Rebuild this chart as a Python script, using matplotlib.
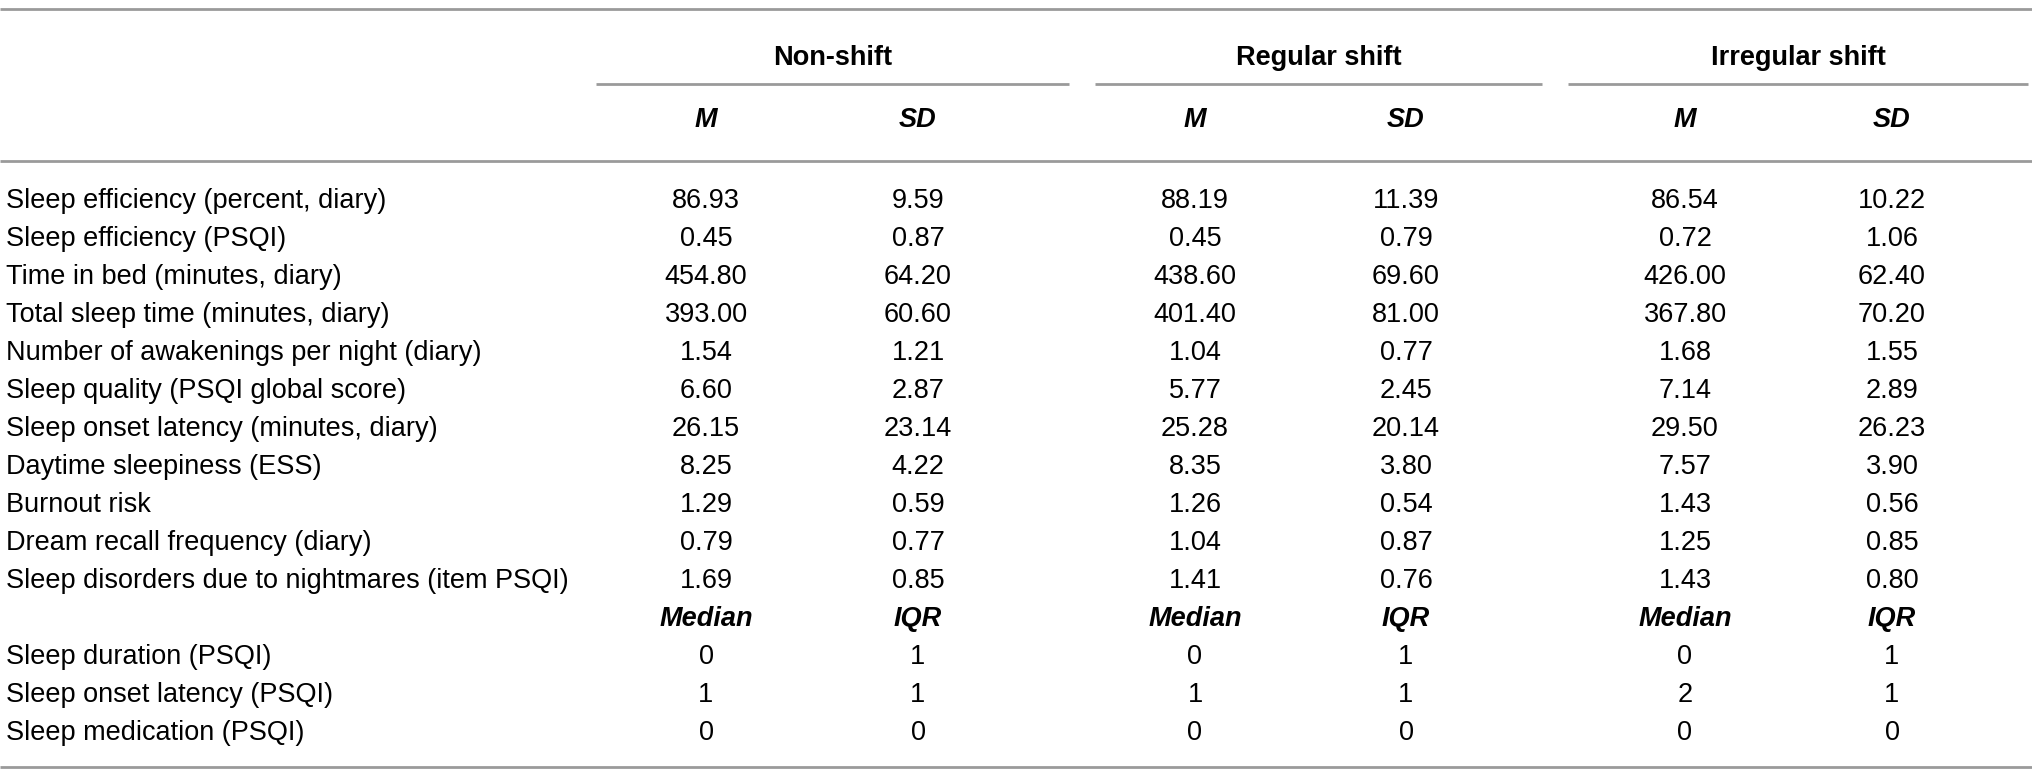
import matplotlib
matplotlib.use("Agg")
import matplotlib.pyplot as plt

plt.rcParams['font.family'] = ['Liberation Sans', 'DejaVu Sans']

### data
groups = ["Non-shift", "Regular shift", "Irregular shift"]
stat_labels = ["M", "SD"]
stat_labels_2 = ["Median", "IQR"]

rows_1 = [
    "Sleep efficiency (percent, diary)",
    "Sleep efficiency (PSQI)",
    "Time in bed (minutes, diary)",
    "Total sleep time (minutes, diary)",
    "Number of awakenings per night (diary)",
    "Sleep quality (PSQI global score)",
    "Sleep onset latency (minutes, diary)",
    "Daytime sleepiness (ESS)",
    "Burnout risk",
    "Dream recall frequency (diary)",
    "Sleep disorders due to nightmares (item PSQI)",
]
non_shift_m = ["86.93", "0.45", "454.80", "393.00", "1.54", "6.60", "26.15", "8.25", "1.29", "0.79", "1.69"]
non_shift_sd = ["9.59", "0.87", "64.20", "60.60", "1.21", "2.87", "23.14", "4.22", "0.59", "0.77", "0.85"]
regular_m = ["88.19", "0.45", "438.60", "401.40", "1.04", "5.77", "25.28", "8.35", "1.26", "1.04", "1.41"]
regular_sd = ["11.39", "0.79", "69.60", "81.00", "0.77", "2.45", "20.14", "3.80", "0.54", "0.87", "0.76"]
irregular_m = ["86.54", "0.72", "426.00", "367.80", "1.68", "7.14", "29.50", "7.57", "1.43", "1.25", "1.43"]
irregular_sd = ["10.22", "1.06", "62.40", "70.20", "1.55", "2.89", "26.23", "3.90", "0.56", "0.85", "0.80"]

rows_2 = [
    "Sleep duration (PSQI)",
    "Sleep onset latency (PSQI)",
    "Sleep medication (PSQI)",
]
non_shift_med = ["0", "1", "0"]
non_shift_iqr = ["1", "1", "0"]
regular_med = ["0", "1", "0"]
regular_iqr = ["1", "1", "0"]
irregular_med = ["0", "2", "0"]
irregular_iqr = ["1", "1", "0"]

### layout (pixel space)
W, H = 2032, 777
fig = plt.figure(figsize=(W / 100, H / 100), dpi=100)
ax = fig.add_axes([0, 0, 1, 1])
ax.set_xlim(0, W)
ax.set_ylim(H, 0)
ax.axis('off')

line_color = '#9a9a9a'
fs = 19.5
col_x = [706, 918, 1195, 1406, 1685, 1892]
group_span = [(596, 1069), (1095, 1542), (1568, 2028)]
y_top, y_group, y_under, y_stat, y_head = 9, 58, 84, 120, 161
y_first, dy = 201, 38.0

ax.hlines([y_top, y_head], 0, W, color=line_color, lw=2)
for g, (x0, x1) in zip(groups, group_span):
    ax.hlines(y_under, x0, x1, color=line_color, lw=2)
    ax.text((x0 + x1) / 2, y_group, g, ha='center', va='center',
            fontsize=fs, fontweight='bold')
for i, x in enumerate(col_x):
    ax.text(x, y_stat, stat_labels[i % 2], ha='center', va='center',
            fontsize=fs, fontweight='bold', style='italic')

cols_1 = [non_shift_m, non_shift_sd, regular_m, regular_sd, irregular_m, irregular_sd]
cols_2 = [non_shift_med, non_shift_iqr, regular_med, regular_iqr, irregular_med, irregular_iqr]

y = y_first
for r, name in enumerate(rows_1):
    ax.text(6, y, name, ha='left', va='center', fontsize=fs)
    for x, col in zip(col_x, cols_1):
        ax.text(x, y, col[r], ha='center', va='center', fontsize=fs)
    y += dy

for i, x in enumerate(col_x):
    ax.text(x, y, stat_labels_2[i % 2], ha='center', va='center',
            fontsize=fs, fontweight='bold', style='italic')
y += dy

for r, name in enumerate(rows_2):
    ax.text(6, y, name, ha='left', va='center', fontsize=fs)
    for x, col in zip(col_x, cols_2):
        ax.text(x, y, col[r], ha='center', va='center', fontsize=fs)
    y += dy

ax.hlines(y - dy + 34, 0, W, color=line_color, lw=2)

fig.savefig('out.png', dpi=100, facecolor='white')
